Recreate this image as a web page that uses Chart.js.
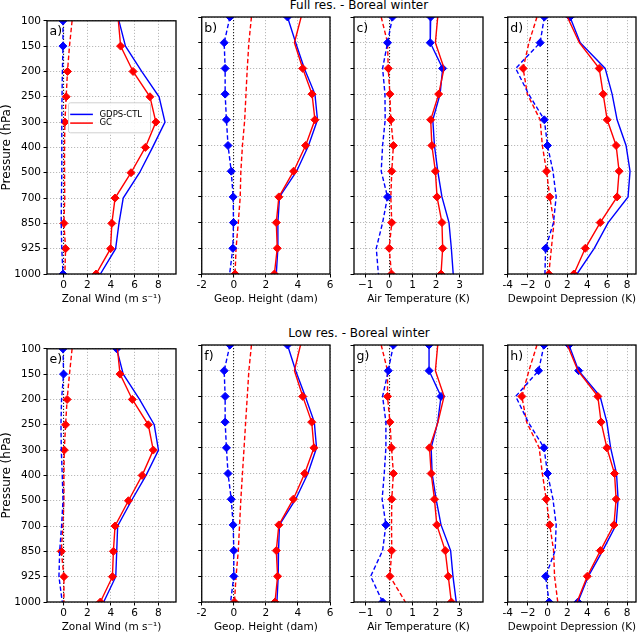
<!DOCTYPE html>
<html>
<head>
<meta charset="utf-8">
<script src="https://cdn.jsdelivr.net/npm/chart.js@4.4.0/dist/chart.umd.min.js"></script>
<style>
  body { margin: 0; background: #fff; width: 640px; height: 634px; position: relative; overflow: hidden; font-family: "DejaVu Sans", sans-serif; }
  .pane { position: absolute; }
  .rowTitle { position: absolute; font-size: 12px; color: #000; transform: translateX(-50%); white-space: nowrap; line-height: 14px; }
</style>
</head>
<body>
<div class="rowTitle" style="left:359px; top:-2px;">Full res. - Boreal winter</div>
<div class="rowTitle" style="left:359px; top:326px;">Low res. - Boreal winter</div>
<script>
const levels = ['100', '150', '200', '250', '300', '400', '500', '700', '850', '925', '1000'];
const expNames = ['GDPS-CTL', 'GC'];
const expColors = ['#0000ff', '#ff0000'];

// tick labels for each variable
const windTicks = [0, 2, 4, 6, 8];
const windTickLabels = ['0', '2', '4', '6', '8'];
const heightTicks = [-2, 0, 2, 4, 6];
const heightTickLabels = ['-2', '0', '2', '4', '6'];
const tempTicks = [-1, 0, 1, 2, 3];
const tempTickLabels = ['\u22121', '0', '1', '2', '3'];
const dewTicks = [-4, -2, 0, 2, 4, 6, 8];
const dewTickLabels = ['-4', '\u22122', '0', '2', '4', '6', '8'];

// full res (a-d): solid = std dev, dashed = bias
const aCtlStd = [4.68, 5.23, 6.6, 8.07, 8.57, 7.52, 6.42, 5.04, 4.68, 4.4, 3.11];
const aGcStd = [4.63, 4.82, 5.87, 7.3, 7.8, 6.91, 5.7, 4.35, 4.08, 3.97, 2.75];
const aCtlBias = [-0.05, -0.05, -0.1, -0.13, -0.15, -0.15, -0.15, -0.18, -0.2, -0.15, -0.05];
const aGcBias = [0.72, 0.5, 0.33, 0.22, 0.11, 0.08, 0.08, 0.1, 0.03, 0.17, 0.11];
const aStdMarks = '-rrrrrrrrrr';
const aBiasMarks = 'bbrrr---rrb';

const bCtlStd = [3.35, 3.86, 4.4, 5.06, 5.22, 4.66, 3.92, 2.85, 2.75, 2.75, 2.65];
const bGcStd = [4.2, 3.78, 4.3, 4.88, 5.06, 4.48, 3.73, 2.81, 2.65, 2.71, 2.53];
const bCtlBias = [-0.24, -0.6, -0.54, -0.54, -0.46, -0.36, -0.16, -0.04, -0.02, -0.06, -0.26];
const bGcBias = [1.1, 0.94, 0.84, 0.76, 0.68, 0.54, 0.44, 0.4, 0.28, 0.14, 0.08];
const bStdMarks = 'b-rrrrrrrrr';
const bBiasMarks = 'bbbbbbbbbbr';

const cCtlStd = [1.77, 1.75, 2.28, 2.17, 1.86, 1.93, 2.07, 2.25, 2.55, 2.65, 2.73];
const cGcStd = [2.07, 1.97, 2.34, 2.11, 1.77, 1.82, 1.97, 2.04, 2.25, 2.28, 2.21];
const cCtlBias = [0.14, -0.07, -0.28, -0.18, -0.17, -0.28, -0.34, -0.07, -0.28, -0.55, -0.46];
const cGcBias = [-0.34, -0.07, -0.04, 0.03, 0.07, 0.18, 0.11, 0.07, 0.11, 0.0, 0.1];
const cStdMarks = 'bbbrrrrrrrr';
const cBiasMarks = 'bbrrrrrbrrr';

const dCtlStd = [2.26, 3.29, 5.8, 6.5, 7.0, 7.9, 8.3, 8.1, 6.1, 4.7, 2.97];
const dGcStd = [2.0, 3.2, 5.2, 5.6, 6.0, 6.9, 7.2, 7.0, 5.3, 3.8, 2.65];
const dCtlBias = [-0.32, -0.74, -3.2, -1.9, -0.32, 0.0, 0.55, 0.87, 0.6, -0.19, -0.26];
const dGcBias = [-1.06, -1.87, -2.45, -2.03, -0.74, -0.52, -0.1, 0.23, 0.65, 0.39, 0.13];
const dStdMarks = 'b-rrrrrrrrr';
const dBiasMarks = 'bbr-bbrr-br';

// low res (e-h)
const eCtlStd = [4.49, 5.04, 6.42, 7.66, 8.02, 6.97, 5.73, 4.57, 4.49, 4.41, 3.39];
const eGcStd = [4.55, 4.77, 5.81, 7.16, 7.58, 6.64, 5.48, 4.35, 4.21, 4.13, 3.11];
const eCtlBias = [-0.05, 0.0, -0.17, -0.22, -0.19, -0.11, -0.05, -0.17, -0.33, -0.39, -0.11];
const eGcBias = [0.72, 0.5, 0.3, 0.17, 0.06, 0.03, 0.03, -0.06, -0.19, 0.03, 0.03];
const eStdMarks = 'brrrrrrrrrr';
const eBiasMarks = 'bbrrr---rr-';

const fCtlStd = [3.35, 3.86, 4.46, 5.02, 5.16, 4.62, 3.86, 2.85, 2.79, 2.77, 2.69];
const fGcStd = [4.16, 3.78, 4.3, 4.86, 5.0, 4.42, 3.71, 2.81, 2.65, 2.73, 2.57];
const fCtlBias = [-0.24, -0.6, -0.54, -0.54, -0.46, -0.36, -0.16, -0.04, 0.0, 0.0, -0.2];
const fGcBias = [1.1, 0.94, 0.84, 0.74, 0.64, 0.54, 0.44, 0.36, 0.28, 0.14, 0.04];
const fStdMarks = 'b-rrrrrrrrr';
const fBiasMarks = 'bbbbbbbbbbr';

const gCtlStd = [1.7, 1.7, 2.21, 2.07, 1.79, 1.83, 2.0, 2.21, 2.62, 2.72, 2.86];
const gGcStd = [2.07, 1.97, 2.34, 2.08, 1.72, 1.79, 1.93, 2.03, 2.39, 2.52, 2.65];
const gCtlBias = [0.18, -0.04, -0.28, -0.14, -0.14, -0.21, -0.3, -0.14, -0.28, -0.79, -0.28];
const gGcBias = [-0.34, -0.07, -0.07, 0.03, 0.1, 0.18, 0.11, 0.1, 0.11, 0.03, 0.69];
const gStdMarks = 'bbb-rrrrrrr';
const gBiasMarks = 'bbrrrrrbrrb';

const hCtlStd = [2.16, 3.13, 5.29, 5.97, 6.35, 6.94, 7.1, 6.9, 5.55, 4.1, 3.06];
const hGcStd = [2.0, 3.06, 5.06, 5.39, 5.97, 6.74, 6.9, 6.68, 5.32, 4.0, 2.97];
const hCtlBias = [-0.35, -0.9, -3.2, -1.94, -0.35, 0.0, 0.55, 0.87, 0.77, -0.19, 0.16];
const hGcBias = [-1.06, -1.87, -2.58, -2.1, -0.84, -0.52, -0.13, 0.23, 0.61, 0.71, 1.03];
const hStdMarks = 'bbrrrrrrrrb';
const hBiasMarks = 'bbr-bbrr-bb';

Chart.defaults.font.family = '"DejaVu Sans", sans-serif';
Chart.defaults.color = '#000';

const axisKinds = {
  wind: { min: -1.4, max: 9.5, ticks: windTicks, labels: windTickLabels, title: 'Zonal Wind (m s\u207b\u00b9)' },
  height: { min: -2, max: 6, ticks: heightTicks, labels: heightTickLabels, title: 'Geop. Height (dam)' },
  temp: { min: -1.5, max: 4, ticks: tempTicks, labels: tempTickLabels, title: 'Air Temperature (K)' },
  dew: { min: -4, max: 8.9, ticks: dewTicks, labels: dewTickLabels, title: 'Dewpoint Depression (K)' }
};

const panels = [
  ['a)', aCtlStd, aGcStd, aCtlBias, aGcBias, aStdMarks, aBiasMarks, 'wind'],
  ['b)', bCtlStd, bGcStd, bCtlBias, bGcBias, bStdMarks, bBiasMarks, 'height'],
  ['c)', cCtlStd, cGcStd, cCtlBias, cGcBias, cStdMarks, cBiasMarks, 'temp'],
  ['d)', dCtlStd, dGcStd, dCtlBias, dGcBias, dStdMarks, dBiasMarks, 'dew'],
  ['e)', eCtlStd, eGcStd, eCtlBias, eGcBias, eStdMarks, eBiasMarks, 'wind'],
  ['f)', fCtlStd, fGcStd, fCtlBias, fGcBias, fStdMarks, fBiasMarks, 'height'],
  ['g)', gCtlStd, gGcStd, gCtlBias, gGcBias, gStdMarks, gBiasMarks, 'temp'],
  ['h)', hCtlStd, hGcStd, hCtlBias, hGcBias, hStdMarks, hBiasMarks, 'dew']
];

const colLeft = [47, 201, 354, 507];
const rowTop = [14, 342];
const areaW = 132, areaH = 260;

// frame, panel letter and the legend in panel a
const framePlugin = {
  id: 'frame',
  afterDraw(chart, args, opts) {
    const ctx = chart.ctx, a = chart.chartArea;
    ctx.save();
    ctx.strokeStyle = '#000';
    ctx.lineWidth = 1.3;
    ctx.strokeRect(a.left, a.top, a.right - a.left, a.bottom - a.top);
    ctx.fillStyle = '#000';
    ctx.font = '12.5px "DejaVu Sans"';
    ctx.textBaseline = 'top';
    ctx.fillText(opts.tag, a.left + 2.5, a.top + 5);
    if (opts.legend) {
      const x0 = a.left + 21.5, y0 = a.top + 82, w = 82, h = 30;
      ctx.beginPath();
      if (ctx.roundRect) ctx.roundRect(x0, y0, w, h, 2); else ctx.rect(x0, y0, w, h);
      ctx.fillStyle = 'rgba(255,255,255,0.85)';
      ctx.fill();
      ctx.strokeStyle = '#d0d0d0';
      ctx.lineWidth = 1;
      ctx.stroke();
      ctx.font = '8.5px "DejaVu Sans"';
      ctx.textBaseline = 'middle';
      expNames.forEach((name, i) => {
        const yy = y0 + 11.6 + i * 8.7;
        ctx.strokeStyle = expColors[i];
        ctx.lineWidth = 1.5;
        ctx.beginPath();
        ctx.moveTo(x0 + 1.7, yy);
        ctx.lineTo(x0 + 24.4, yy);
        ctx.stroke();
        ctx.fillStyle = '#000';
        ctx.fillText(name, x0 + 31, yy);
      });
    }
    ctx.restore();
  }
};

function lineSet(values, colorIdx, marks, dashed) {
  const key = colorIdx === 0 ? 'b' : 'r';
  return {
    label: expNames[colorIdx],
    data: values.map((v, i) => ({ x: v, y: i })),
    borderColor: expColors[colorIdx],
    backgroundColor: expColors[colorIdx],
    borderWidth: 1.4,
    borderDash: dashed ? [4.5, 2.5] : [],
    pointStyle: 'rectRot',
    pointRadius: values.map((v, i) => marks[i] === key ? 4 : 0),
    pointHoverRadius: 0,
    pointBackgroundColor: expColors[colorIdx],
    pointBorderColor: expColors[colorIdx],
    pointBorderWidth: 1,
    fill: false,
    tension: 0
  };
}

panels.forEach((p, n) => {
  const [tag, ctlStd, gcStd, ctlBias, gcBias, stdMarks, biasMarks, kind] = p;
  const row = Math.floor(n / 4), col = n % 4;
  const k = axisKinds[kind];
  const yW = col === 0 ? 47 : 6;
  const W = yW + areaW + 2, H = 2 + areaH + 36;

  const div = document.createElement('div');
  div.className = 'pane';
  div.style.left = (colLeft[col] - yW) + 'px';
  div.style.top = (rowTop[row] - 2) + 'px';
  const cv = document.createElement('canvas');
  cv.width = W; cv.height = H;
  cv.style.width = W + 'px'; cv.style.height = H + 'px';
  div.appendChild(cv);
  document.body.appendChild(div);

  new Chart(cv, {
    type: 'line',
    data: {
      datasets: [
        lineSet(ctlBias, 0, biasMarks, true),
        lineSet(gcStd, 1, stdMarks, false),
        lineSet(gcBias, 1, biasMarks, true),
        lineSet(ctlStd, 0, stdMarks, false)
      ]
    },
    plugins: [framePlugin],
    options: {
      indexAxis: 'y',
      responsive: false,
      animation: false,
      layout: { padding: { top: 2, right: 2, left: 0, bottom: 0 } },
      plugins: {
        legend: { display: false },
        tooltip: { enabled: false },
        frame: { tag: tag, legend: n === 0 }
      },
      scales: {
        x: {
          type: 'linear',
          min: k.min,
          max: k.max,
          afterBuildTicks: s => { s.ticks = k.ticks.map(v => ({ value: v })); },
          afterFit: s => { s.height = 36; },
          ticks: {
            autoSkip: false, maxRotation: 0, padding: 1.5,
            font: { size: 10.5 },
            callback: (v, i) => k.labels[i]
          },
          grid: {
            color: c => (c.tick && c.tick.value === 0) ? '#222' : '#a8a8a8',
            lineWidth: c => (c.tick && c.tick.value === 0) ? 1.1 : 0.8,
            tickLength: 3.5,
            tickColor: '#000',
            tickWidth: 1
          },
          border: { display: false, dash: [1.2, 1.8] },
          title: { display: true, text: k.title, font: { size: 10.5 }, padding: { top: 0, bottom: 4.7 } }
        },
        y: {
          type: 'linear',
          min: 0,
          max: 10,
          reverse: true,
          afterBuildTicks: s => { s.ticks = levels.map((l, i) => ({ value: i })); },
          afterFit: s => { s.width = yW; },
          ticks: {
            display: col === 0,
            autoSkip: false, padding: 2.5,
            font: { size: 10.5 },
            callback: (v, i) => levels[i]
          },
          grid: { color: '#a8a8a8', lineWidth: 0.8, tickLength: 3.5, tickColor: '#000', tickWidth: 1 },
          border: { display: false, dash: [1.2, 1.8] },
          title: { display: col === 0, text: 'Pressure (hPa)', font: { size: 12 }, padding: 0 }
        }
      }
    }
  });
});
</script>
</body>
</html>
